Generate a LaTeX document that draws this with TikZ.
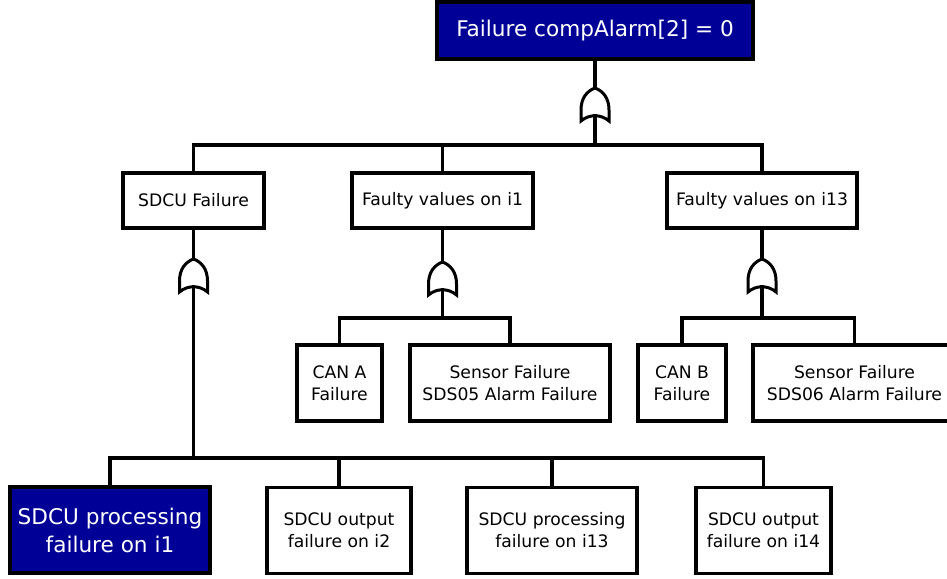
\documentclass[tikz,border=0pt]{standalone}
\usepackage{fontspec}
\setmainfont{DejaVu Sans}
\usepackage{tikz}
\usetikzlibrary{positioning}

\definecolor{eventblue}{RGB}{0,0,150}

\tikzset{
    orgate/.pic = {
        \draw[line width = 1.5pt, fill = white]
            (0,0) .. controls (8,3) and (14,10) .. (14,22) -- (14,33)
            .. controls (6,26) and (-6,26) .. (-14,33) -- (-14,22)
            .. controls (-14,10) and (-8,3) .. (0,0) -- cycle;
        \coordinate (-top) at (0,0);
        \coordinate (-in) at (0,28);
    }
}

\begin{document}
\begin{tikzpicture}[
            x = 0.5pt,
            y = -0.5pt,
            box/.style = {
                draw,
                rectangle,
                line width = 1.7pt,
                fill = white,
                align = center,
                inner sep = 0pt,
                minimum width = #1,
                font = \fontsize{8.6}{11}\selectfont
            },
            box/.default = 80pt,
            topbox/.style = {
                box = #1,
                fill = eventblue,
                text = white,
                font = \fontsize{10.8}{14}\selectfont
            },
            wire/.style = {line width = 1.7pt, line cap = rect}
            ]
            \useasboundingbox (0,0) rectangle (947,578);

            \node[topbox=158pt, minimum height=28.5pt] (top) at (595,30.5) {Failure compAlarm[2] = 0};

            \node[box=70.5pt, minimum height=27.5pt] (sdcu) at (193.5,200.5) {SDCU Failure};
            \node[box=90.5pt, minimum height=27.5pt] (fv1) at (442.5,200.5) {Faulty values on i1};
            \node[box=95pt, minimum height=27.5pt] (fv13) at (762,200.5) {Faulty values on i13};

            \node[box=42.5pt, minimum height=38pt] (cana) at (339.5,383) {CAN A\\Failure};
            \node[box=100pt, minimum height=38pt] (sds05) at (510,383) {Sensor Failure\\SDS05 Alarm Failure};
            \node[box=44pt, minimum height=38pt] (canb) at (682,383) {CAN B\\Failure};
            \node[box=101.5pt, minimum height=38pt] (sds06) at (854.5,383) {Sensor Failure\\SDS06 Alarm Failure};

            \node[topbox=100pt, minimum height=43pt] (proc1) at (110,530) {SDCU processing\\failure on i1};
            \node[box=72pt, minimum height=43pt] (out2) at (339,530.5) {SDCU output\\failure on i2};
            \node[box=85pt, minimum height=43pt] (proc13) at (552,530.5) {SDCU processing\\failure on i13};
            \node[box=67.5pt, minimum height=43pt] (out14) at (763.5,530.5) {SDCU output\\failure on i14};

            \pic (g0) at (595,88) {orgate};
            \pic (g1) at (193.5,259) {orgate};
            \pic (g2) at (442.5,262) {orgate};
            \pic (g3) at (762,259) {orgate};

            \coordinate (b0) at (595,145);
            \coordinate (b1) at (193.5,458);
            \coordinate (b2) at (442.5,318);
            \coordinate (b3) at (762,318);

            \draw[wire] (top) -- (g0-top);
            \draw[wire] (g0-in) -- (b0);
            \draw[wire] (b0) -| (sdcu);
            \draw[wire] (b0) -| (fv1);
            \draw[wire] (b0) -| (fv13);

            \draw[wire] (sdcu) -- (g1-top);
            \draw[wire] (g1-in) -- (b1);
            \draw[wire] (b1) -| (proc1);
            \draw[wire] (b1) -| (out2);
            \draw[wire] (b1) -| (proc13);
            \draw[wire] (b1) -| (out14);

            \draw[wire] (fv1) -- (g2-top);
            \draw[wire] (g2-in) -- (b2);
            \draw[wire] (b2) -| (cana);
            \draw[wire] (b2) -| (sds05);

            \draw[wire] (fv13) -- (g3-top);
            \draw[wire] (g3-in) -- (b3);
            \draw[wire] (b3) -| (canb);
            \draw[wire] (b3) -| (sds06);
        \end{tikzpicture}
\end{document}
